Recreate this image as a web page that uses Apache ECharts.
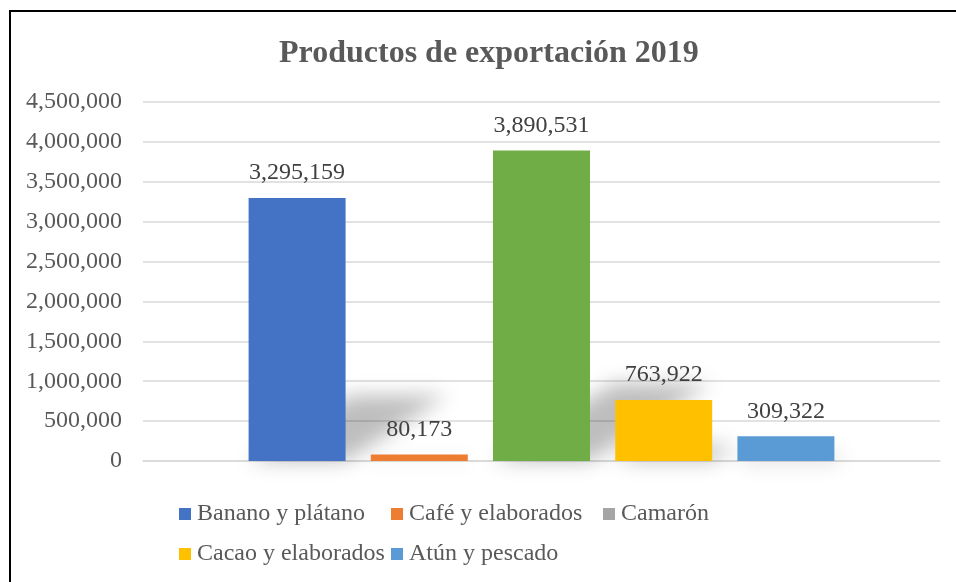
<!DOCTYPE html>
<html>
<head>
<meta charset="utf-8">
<script src="https://cdn.jsdelivr.net/npm/echarts@6/dist/echarts.min.js"></script>
<style>html,body{margin:0;padding:0;background:#fff;overflow:hidden}#c{width:956px;height:582px}</style>
</head>
<body>
<div id="c"></div>
<script>
var title = 'Productos de exportación 2019';
var categories = ['2019'];
var seriesNames = ['Banano y plátano', 'Café y elaborados', 'Camarón', 'Cacao y elaborados', 'Atún y pescado'];
var values = [3295159, 80173, 3890531, 763922, 309322];
var legendColors = ['#4472C4', '#ED7D31', '#A5A5A5', '#FFC000', '#5B9BD5'];
var barColors = ['#4472C4', '#ED7D31', '#70AD47', '#FFC000', '#5B9BD5'];
var yTicks = [0, 500000, 1000000, 1500000, 2000000, 2500000, 3000000, 3500000, 4000000, 4500000];

var CAT_GAP = 0.265, BAR_GAP = 0.26;
var FONT = '"Liberation Serif", "Times New Roman", serif';

function fmt(v) { return v.toLocaleString('en-US'); }

var chart = echarts.init(document.getElementById('c'));
var series = seriesNames.map(function (name, i) {
  return {
    name: name,
    type: 'bar',
    z: 3,
    barGap: (BAR_GAP * 100) + '%',
    barCategoryGap: (CAT_GAP * 100) + '%',
    itemStyle: { color: legendColors[i] },
    data: [{ value: values[i], itemStyle: { color: barColors[i] } }],
    label: {
      show: true, position: 'top', distance: 13,
      fontFamily: FONT, fontSize: 24, color: '#404040',
      formatter: function (p) { return fmt(p.value); }
    }
  };
});

// perspective shadows behind bars (derived from data through axis scales)
series.push({
  type: 'custom',
  z: 1,
  silent: true,
  clip: false,
  legendHoverLink: false,
  data: values.map(function (v, i) { return [0, v, i]; }),
  encode: { x: 0, y: 1 },
  renderItem: function (params, api) {
    var idx = api.value(2);
    var center = api.coord([0, 0]);
    var top = api.coord([0, api.value(1)]);
    var bandW = api.size([1, 0])[0];
    var n = values.length;
    var barW = bandW * (1 - CAT_GAP) / (n + (n - 1) * BAR_GAP);
    var total = n * barW + (n - 1) * BAR_GAP * barW;
    var xl = center[0] - total / 2 + idx * barW * (1 + BAR_GAP);
    var xr = xl + barW;
    var base = center[1];
    var h = base - top[1];
    var sh = h * 0.25;
    var dx = sh * 1.55;
    var OFF = 3000;
    return {
      type: 'polygon',
      shape: { points: [[xl - OFF, base], [xr - OFF, base], [xr + dx - OFF, base - sh], [xl + dx - OFF, base - sh]] },
      style: { fill: '#000', shadowColor: 'rgba(0,0,0,0.26)', shadowBlur: 20, shadowOffsetX: OFF, shadowOffsetY: 0 }
    };
  }
});

var option = {
  animation: false,
  backgroundColor: '#fff',
  title: {
    text: title, left: 274, top: 33,
    textStyle: { fontFamily: FONT, fontSize: 32, fontWeight: 'bold', color: '#595959' }
  },
  graphic: [{
    type: 'polyline', z: 100, silent: true,
    shape: { points: [[10, 1000], [10, 11], [1000, 11]] },
    style: { fill: null, stroke: '#000', lineWidth: 2 }
  }],
  legend: [
    { data: [seriesNames[0], seriesNames[3]] , left: 179},
    { data: [seriesNames[1], seriesNames[4]] , left: 391},
    { data: [seriesNames[2]] , left: 603}
  ].map(function (l) {
    return {
      data: l.data, left: l.left, top: 502, orient: 'vertical', padding: 0,
      itemWidth: 12, itemHeight: 12, itemGap: 16,
      icon: 'rect', selectedMode: false,
      textStyle: { fontFamily: FONT, fontSize: 24, color: '#595959', lineHeight: 24, padding: [0, 0, 0, 1] }
    };
  }),
  grid: { left: 143, right: 16, top: 102, bottom: 121, containLabel: false },
  xAxis: {
    type: 'category', data: categories,
    axisLine: { show: true, lineStyle: { color: '#D9D9D9', width: 1.5 } },
    axisTick: { show: false }, axisLabel: { show: false }
  },
  yAxis: {
    type: 'value', min: yTicks[0], max: yTicks[yTicks.length - 1], interval: yTicks[1] - yTicks[0],
    axisLine: { show: false }, axisTick: { show: false },
    splitLine: { lineStyle: { color: '#D9D9D9', width: 1.5 } },
    axisLabel: { margin: 21, fontFamily: FONT, fontSize: 24, color: '#595959', formatter: function (v) { return fmt(v); } }
  },
  series: series
};
chart.setOption(option);
</script>
</body>
</html>
